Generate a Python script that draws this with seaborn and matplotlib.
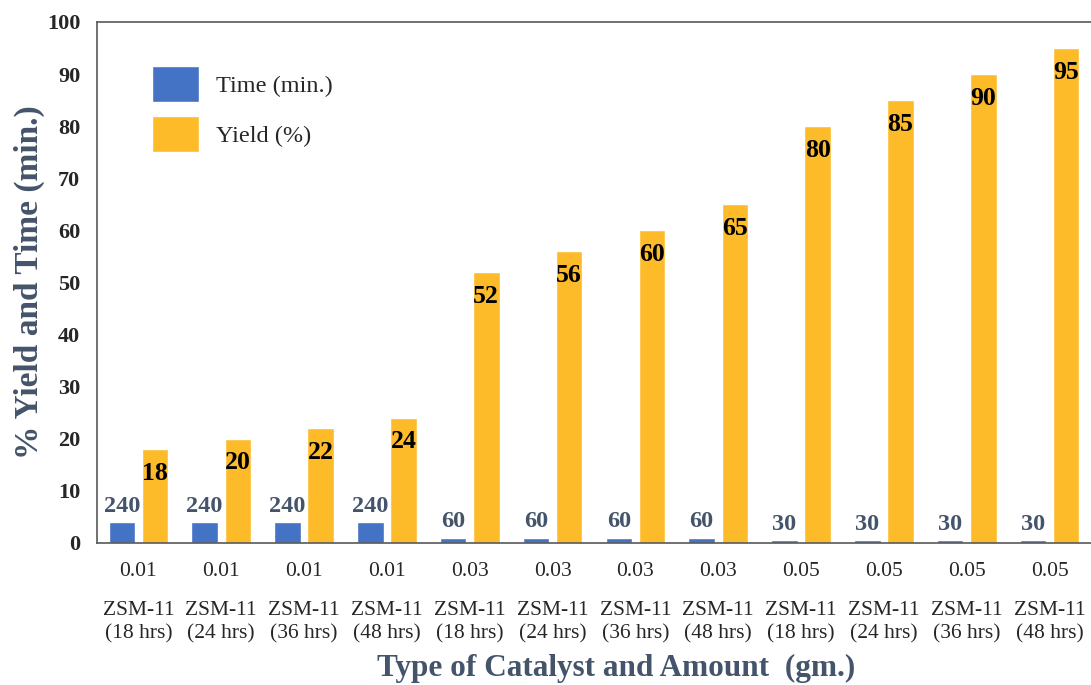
import pandas as pd
import matplotlib
matplotlib.use("Agg")
import matplotlib.pyplot as plt
import seaborn as sns

# data
amounts = ["0.01", "0.01", "0.01", "0.01", "0.03", "0.03", "0.03", "0.03",
           "0.05", "0.05", "0.05", "0.05"]
catalysts = ["ZSM-11\n(18 hrs)", "ZSM-11\n(24 hrs)", "ZSM-11\n(36 hrs)", "ZSM-11\n(48 hrs)",
             "ZSM-11\n(18 hrs)", "ZSM-11\n(24 hrs)", "ZSM-11\n(36 hrs)", "ZSM-11\n(48 hrs)",
             "ZSM-11\n(18 hrs)", "ZSM-11\n(24 hrs)", "ZSM-11\n(36 hrs)", "ZSM-11\n(48 hrs)"]
time_min = [240, 240, 240, 240, 60, 60, 60, 60, 30, 30, 30, 30]
yield_pct = [18, 20, 22, 24, 52, 56, 60, 65, 80, 85, 90, 95]

# bars of time are drawn in hours, labels show minutes
time_hours = [t / 60 for t in time_min]

keys = [f"{a}|{i}" for i, a in enumerate(amounts)]
df = pd.DataFrame({
    "key": keys * 2,
    "value": time_hours + yield_pct,
    "series": ["Time (min.)"] * len(keys) + ["Yield (%)"] * len(keys),
})

sns.set_style("white")
plt.rcParams["font.family"] = ["Liberation Serif", "DejaVu Serif"]

blue = "#4472C4"
gold = "#FDBB2A"
slate = "#44546A"

fig = plt.figure(figsize=(10.91, 6.85), dpi=100)
ax = fig.add_axes([0.0889, 0.2073, 0.9111, 0.7606])

sns.barplot(data=df, x="key", y="value", hue="series", order=keys,
            hue_order=["Time (min.)", "Yield (%)"], palette=[blue, gold],
            width=0.8, gap=0.2, saturation=1, ax=ax)

ax.set_ylim(0, 100)
ax.set_xlim(-0.5, 11.5)
ax.set_yticks(range(0, 101, 10))
ax.tick_params(axis="y", labelsize=16, length=5, width=1, color="#7f7f7f", pad=7)
for t in ax.get_yticklabels():
    t.set_fontweight("bold")

ax.set_xticks(range(len(keys)))
ax.set_xticklabels(amounts, fontsize=15.5)
ax.tick_params(axis="x", length=0, pad=14)

for i, c in enumerate(catalysts):
    ax.annotate(c, xy=(i, 0), xycoords=ax.get_xaxis_transform(),
                xytext=(0, -42), textcoords="offset points",
                ha="center", va="top", fontsize=15.5, linespacing=1.3)

for side in ["left", "bottom", "top"]:
    ax.spines[side].set_color("#595959")
    ax.spines[side].set_linewidth(1.2)
ax.spines["right"].set_visible(False)

# value labels
time_bars, yield_bars = ax.containers[0], ax.containers[1]
for bar, t in zip(time_bars, time_min):
    ax.annotate(str(t), xy=(bar.get_x() + bar.get_width() / 2, bar.get_height()),
                xytext=(0, 4), textcoords="offset points", ha="center", va="bottom",
                fontsize=17.5, fontweight="bold", color=slate)
for bar, y in zip(yield_bars, yield_pct):
    ax.annotate(str(y), xy=(bar.get_x() + bar.get_width() / 2, bar.get_height()),
                xytext=(0, -9), textcoords="offset points", ha="center", va="top",
                fontsize=18.5, fontweight="bold", color="black")

ax.set_xlabel("Type of Catalyst and Amount  (gm.)", fontsize=22.5, fontweight="bold", color=slate)
ax.xaxis.set_label_coords(0.522, -0.213)
ax.set_ylabel("% Yield and Time (min.)", fontsize=24, fontweight="bold", color=slate)
ax.yaxis.set_label_coords(-0.052, 0.5)

handles, labels = ax.get_legend_handles_labels()
ax.legend(handles, labels, loc="upper left", bbox_to_anchor=(0.046, 0.935), frameon=False,
          fontsize=17.5, handlelength=1.9, handleheight=1.95, labelspacing=0.55,
          handletextpad=0.7, borderaxespad=0)

fig.savefig("out.png", dpi=100)
